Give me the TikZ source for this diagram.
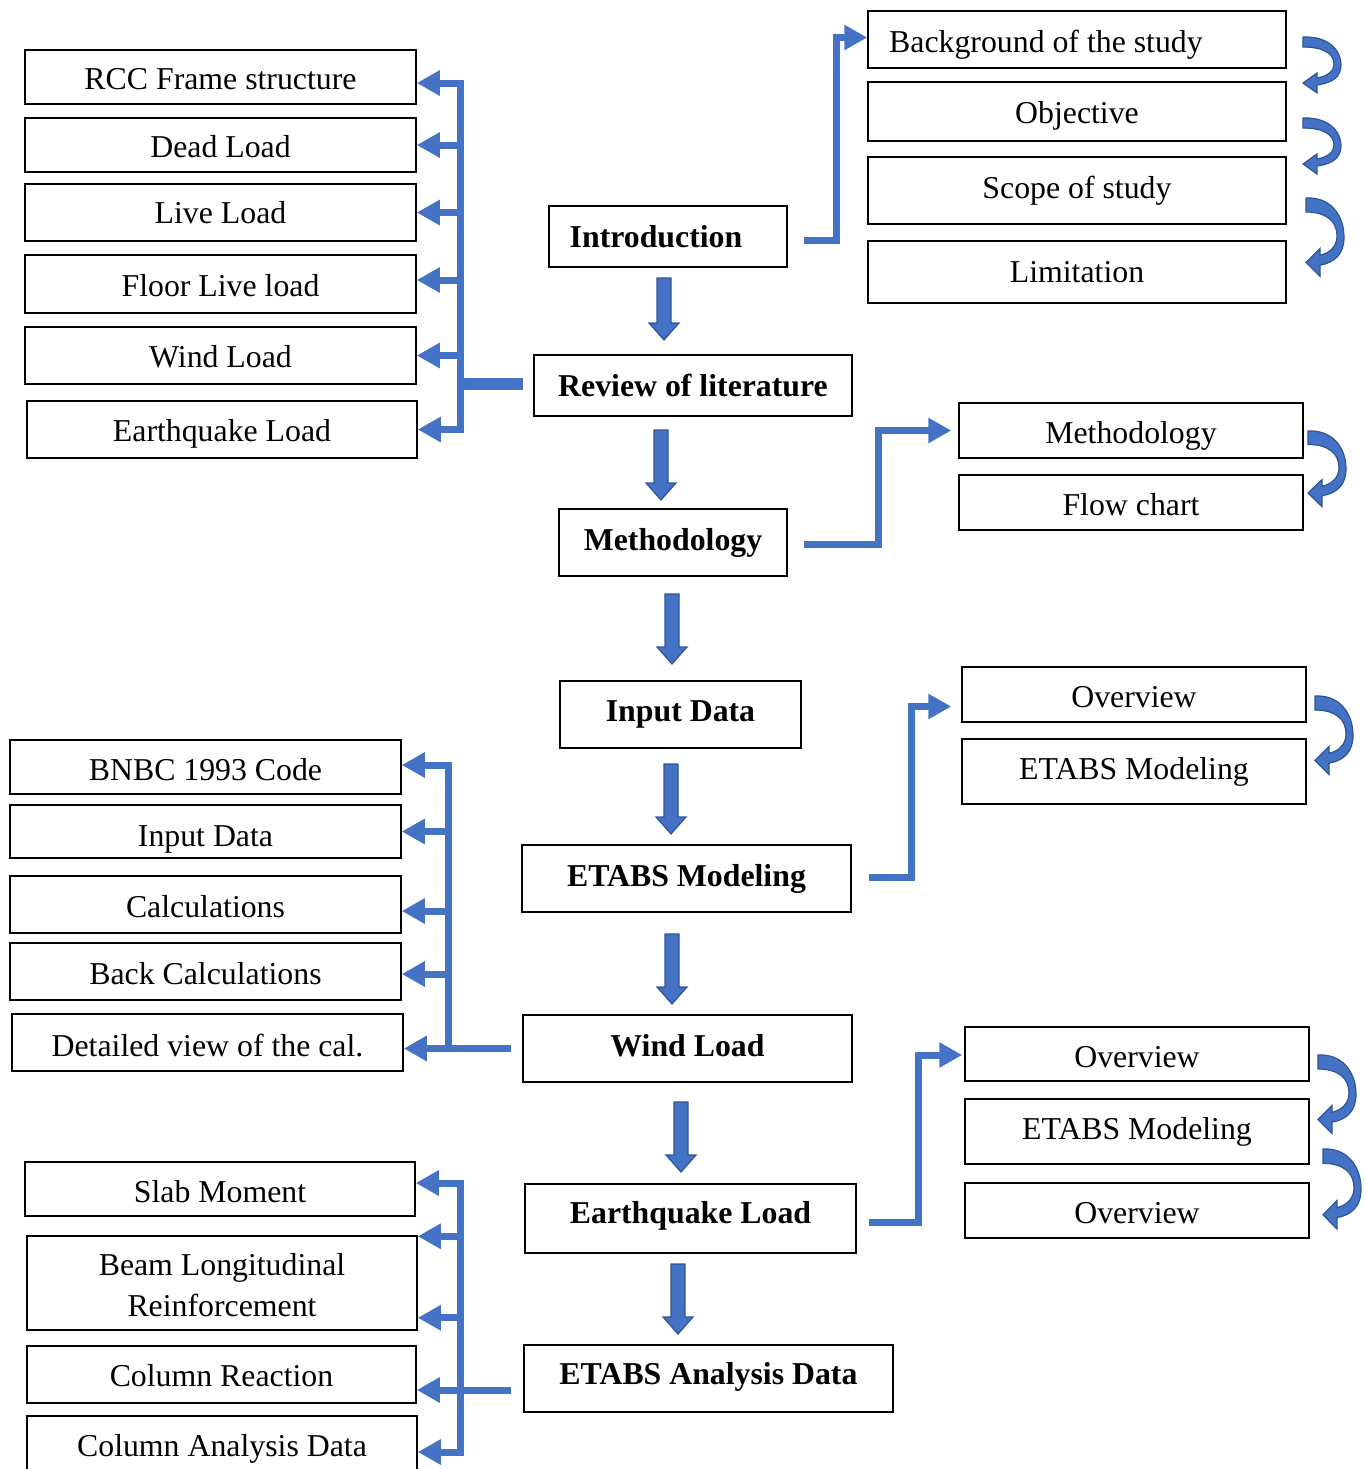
\documentclass[tikz,border=0pt]{standalone}
\usepackage{fontspec}
\setmainfont{Liberation Serif}
\usetikzlibrary{arrows.meta,calc}
\definecolor{cblue}{HTML}{4472C4}
\definecolor{dblue}{HTML}{2F5597}
\tikzset{
 box/.style={draw=black, line width=0.75pt, inner sep=0pt, align=center, font=\fontsize{15.9}{20.5}\selectfont},
 mbox/.style={box, font=\fontsize{15.9}{20.5}\selectfont\bfseries},
 sz/.style 2 args={minimum width=#1*0.5pt, minimum height=#2*0.5pt},
 conn/.style={cblue, line width=3.5pt},
 barr/.style={conn, -{Triangle[length=11.5pt,width=12pt]}},
 blk/.style={fill=cblue, draw=dblue, line width=0.6pt, line join=miter},
}
% text offset inside a box: #1 = horizontal shift (pt), #2 = vertical shift (pt)
\newcommand\txtoff[3]{\raisebox{#2}[\height][\depth]{\hspace*{#1}#3}}
\newcommand\blkdown[3]{\draw[blk] (#1-7,#2) -- (#1+7,#2) -- (#1+7,#3-17) -- (#1+15,#3-17) -- (#1,#3) -- (#1-15,#3-17) -- (#1-7,#3-17) -- cycle;}
\newcommand\curlarrow[3]{\begin{scope}[shift={(#1,#2)}, yscale=#3]
\draw[blk] (0,0) .. controls (24,-1) and (38,12) .. (38,28) .. controls (38,40) and (29,46) .. (14,48) -- (14,56) -- (0,46) -- (14,36) -- (14,41) .. controls (25,39) and (31,34) .. (31,27) .. controls (31,17) and (21,10) .. (0,10) -- cycle;
\end{scope}}
\begin{document}
\begin{tikzpicture}[x=0.5pt,y=-0.5pt]
\path[use as bounding box] (0,0) rectangle (1367,1469);
\clip (0,0) rectangle (1367,1469);
% centre column
\node[mbox, sz={238}{61}] (intro) at (668,236.5) {\txtoff{-12pt}{0pt}{Introduction}};
\node[mbox, sz={318}{61}] (review) at (693,385.5) {Review of literature};
\node[mbox, sz={228}{67}] (meth) at (673,542.5) {Methodology};
\node[mbox, sz={241}{67}] (input) at (680.5,714.5) {Input Data};
\node[mbox, sz={329}{67}] (etabs) at (686.5,878.5) {ETABS Modeling};
\node[mbox, sz={329}{67}] (wind) at (687.5,1048.5) {\txtoff{0pt}{1.5pt}{Wind Load}};
\node[mbox, sz={331}{69}] (eq) at (690.5,1218.5) {\txtoff{0pt}{1.5pt}{Earthquake Load}};
\node[mbox, sz={369}{67}] (analysis) at (708.5,1378.5) {\txtoff{0pt}{1pt}{ETABS Analysis Data}};
% left top
\node[box, sz={391}{54}] (rcc) at (220.5,77) {\txtoff{0pt}{-1pt}{RCC Frame structure}};
\node[box, sz={391}{54}] (dead) at (220.5,145) {\txtoff{0pt}{-1pt}{Dead Load}};
\node[box, sz={391}{57}] (live) at (220.5,212.5) {Live Load};
\node[box, sz={391}{58}] (floor) at (220.5,284) {\txtoff{0pt}{-1pt}{Floor Live load}};
\node[box, sz={391}{57}] (windl) at (220.5,355.5) {\txtoff{0pt}{-0.5pt}{Wind Load}};
\node[box, sz={390}{57}] (eql) at (222,429.5) {\txtoff{0pt}{-2pt}{Earthquake Load}};
% right top
\node[box, sz={418}{57}] (bg) at (1077,39.5) {\txtoff{-31pt}{-2.5pt}{Background of the study}};
\node[box, sz={418}{59}] (obj) at (1077,111.5) {\txtoff{0pt}{-2pt}{Objective}};
\node[box, sz={418}{67}] (scope) at (1077,190.5) {Scope of study};
\node[box, sz={418}{62}] (lim) at (1077,272) {Limitation};
\node[box, sz={344}{55}] (methr) at (1131,430.5) {\txtoff{0pt}{-2.5pt}{Methodology}};
\node[box, sz={344}{55}] (flow) at (1131,502.5) {\txtoff{0pt}{-1pt}{Flow chart}};
\node[box, sz={344}{55}] (ov1) at (1134,694.5) {\txtoff{0pt}{-1.5pt}{Overview}};
\node[box, sz={344}{65}] (em1) at (1134,771.5) {ETABS Modeling};
\node[box, sz={344}{54}] (ov2) at (1137,1054) {\txtoff{0pt}{-1.5pt}{Overview}};
\node[box, sz={344}{65}] (em2) at (1137,1131.5) {ETABS Modeling};
\node[box, sz={344}{55}] (ov3) at (1137,1210.5) {\txtoff{0pt}{-1.5pt}{Overview}};
% left middle
\node[box, sz={391}{54}] (bnbc) at (205.5,767) {\txtoff{0pt}{-1.5pt}{BNBC 1993 Code}};
\node[box, sz={391}{53}] (inl) at (205.5,831.5) {\txtoff{0pt}{-4pt}{Input Data}};
\node[box, sz={391}{57}] (calc) at (205.5,904.5) {\txtoff{0pt}{-1pt}{Calculations}};
\node[box, sz={391}{57}] (back) at (205.5,971.5) {\txtoff{0pt}{-1pt}{Back Calculations}};
\node[box, sz={391}{57}] (det) at (207.5,1042.5) {\txtoff{0pt}{-1.5pt}{Detailed view of the cal.}};
% left bottom
\node[box, sz={390}{54}] (slab) at (220,1189) {\txtoff{0pt}{-1.5pt}{Slab Moment}};
\node[box, sz={390}{94}] (beam) at (222,1283) {\txtoff{0pt}{-1pt}{Beam Longitudinal}\\\txtoff{0pt}{-1pt}{Reinforcement}};
\node[box, sz={389}{57}] (colr) at (221.5,1374.5) {\txtoff{0pt}{-0.5pt}{Column Reaction}};
\node[box, sz={390}{64}] (cola) at (222,1448) {\txtoff{0pt}{-0.5pt}{Column Analysis Data}};
% down block arrows
\blkdown{664}{278}{340}
\blkdown{661}{430}{500}
\blkdown{672}{594}{664}
\blkdown{671}{764}{834}
\blkdown{672}{934}{1004}
\blkdown{681}{1102}{1172}
\blkdown{678}{1264}{1334}
% curled arrows
\curlarrow{1303}{37}{1}
\curlarrow{1303}{118}{1}
\curlarrow{1306}{198}{1.4}
\curlarrow{1308}{431}{1.35}
\curlarrow{1315}{696}{1.4}
\curlarrow{1318}{1055}{1.4}
\curlarrow{1323}{1149}{1.43}
% right elbow connectors
\draw[barr] ([xshift=8pt,yshift=-1.75pt]intro.east) -- ++(33,0) |- ([yshift=1pt]bg.west);
\draw[barr] ([xshift=8pt,yshift=-0.75pt]meth.east) -- ++(75,0) |- ([xshift=-3.5pt]methr.west);
\draw[barr] ([xshift=8.5pt,yshift=0.75pt]etabs.east) -- ++(43,0) |- ([xshift=-5pt,yshift=-6pt]ov1.west);
\draw[barr] ([xshift=6pt,yshift=-1.75pt]eq.east) -- ++(50,0) |- ([xshift=-1pt,yshift=-0.5pt]ov2.west);
% target points of the left brackets
\coordinate (tRev) at ([xshift=-5pt,yshift=1pt]review.west);
\coordinate (tRcc) at ([yshift=-3pt]rcc.east);
\coordinate (tFloor) at ([yshift=2pt]floor.east);
\coordinate (tBnbc) at ([yshift=1pt]bnbc.east);
\coordinate (tCalc) at ([yshift=-3.25pt]calc.east);
\coordinate (tBack) at ([yshift=-1.25pt]back.east);
\coordinate (tWind) at ([xshift=-5.5pt]wind.west);
\coordinate (tDet) at (det.east |- wind.west);
\coordinate (tAna) at ([xshift=-6pt,yshift=-5.75pt]analysis.west);
\coordinate (tSlab) at ([yshift=3pt]slab.east);
\coordinate (tBeamA) at ([yshift=-0.5pt]beam.north east);
\coordinate (tBeamB) at ([yshift=6.5pt]beam.south east);
\coordinate (tColr) at (colr.east |- tAna);
\coordinate (tCola) at ([yshift=-2pt]cola.east);
% left bracket 1
\coordinate (busA) at (460,0);
\draw[cblue, line width=6pt] (tRev) -- (busA |- tRev);
\draw[conn, line cap=rect] (busA |- tRcc) -- (busA |- eql.east);
\draw[barr] (busA |- tRcc) -- (tRcc);
\draw[barr] (busA |- dead.east) -- (dead.east);
\draw[barr] (busA |- live.east) -- (live.east);
\draw[barr] (busA |- tFloor) -- (tFloor);
\draw[barr] (busA |- windl.east) -- (windl.east);
\draw[barr] (busA |- eql.east) -- (eql.east);
% left bracket 2
\coordinate (busB) at (448,0);
\draw[conn] (tWind) -- (busB |- tWind);
\draw[conn, line cap=rect] (busB |- tBnbc) -- (busB |- tWind);
\draw[barr] (busB |- tBnbc) -- (tBnbc);
\draw[barr] (busB |- inl.east) -- (inl.east);
\draw[barr] (busB |- tCalc) -- (tCalc);
\draw[barr] (busB |- tBack) -- (tBack);
\draw[barr] (busB |- tDet) -- (tDet);
% left bracket 3
\coordinate (busC) at (460,0);
\draw[conn] (tAna) -- (busC |- tAna);
\draw[conn, line cap=rect] (busC |- tSlab) -- (busC |- tCola);
\draw[barr] (busC |- tSlab) -- (tSlab);
\draw[barr] (busC |- tBeamA) -- (tBeamA);
\draw[barr] (busC |- tBeamB) -- (tBeamB);
\draw[barr] (busC |- tColr) -- (tColr);
\draw[barr] (busC |- tCola) -- (tCola);
\end{tikzpicture}
\end{document}
